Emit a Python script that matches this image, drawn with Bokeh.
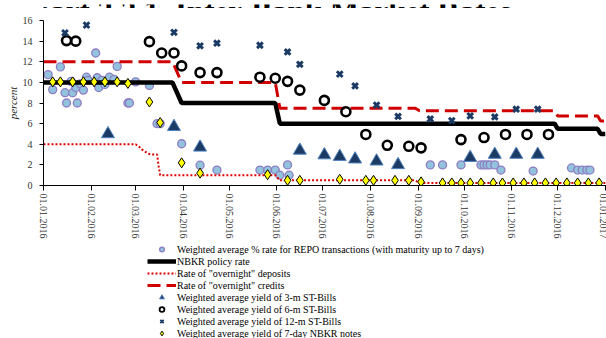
import pandas as pd
from bokeh.plotting import figure
from bokeh.layouts import column
from bokeh.models import (ColumnDataSource, Legend, LegendItem, FixedTicker,
                          DatetimeTickFormatter, Range1d, Label)
from bokeh.core.properties import value
from bokeh.embed import file_html
from bokeh.resources import INLINE

# ---------------- data ----------------
title_text = "Chart 3.2.1. Inter-Bank Market Rates"

repo_dates = ["2016-01-04", "2016-01-07", "2016-01-12", "2016-01-15", "2016-01-16", "2016-01-19",
              "2016-01-20", "2016-01-22", "2016-01-23", "2016-01-25", "2016-01-27", "2016-01-29",
              "2016-01-30", "2016-02-04", "2016-02-05", "2016-02-06", "2016-02-08", "2016-02-10",
              "2016-02-13", "2016-02-16", "2016-02-18", "2016-02-25", "2016-02-26", "2016-03-01",
              "2016-03-10", "2016-03-15", "2016-03-17", "2016-03-31", "2016-04-12", "2016-04-23",
              "2016-05-21", "2016-05-26", "2016-05-31", "2016-06-03", "2016-06-08", "2016-06-09",
              "2016-09-09", "2016-09-17", "2016-09-29", "2016-10-12", "2016-10-14", "2016-10-16",
              "2016-10-18", "2016-10-21", "2016-10-25", "2016-11-15", "2016-12-10", "2016-12-14",
              "2016-12-17", "2016-12-20", "2016-12-22"]
repo_vals = [10.75, 9.3, 11.5, 9.0, 8.0, 10.1,
             9.0, 9.5, 8.0, 9.85, 9.25, 10.5,
             10.2, 12.85, 10.45, 9.5, 10.2, 9.8,
             10.5, 10.3, 11.55, 8.0, 8.0, 10.05,
             9.7, 6.0, 6.0, 4.05, 1.97, 1.5,
             1.5, 1.5, 1.5, 1.0, 2.0, 1.0,
             2.0, 2.0, 2.0, 2.0, 2.0, 2.0,
             2.0, 2.0, 1.5, 1.4, 1.7, 1.5,
             1.5, 1.5, 1.5]

policy_dates = ["2016-01-01", "2016-03-25", "2016-03-31", "2016-05-31", "2016-06-03",
                "2016-11-29", "2016-12-01", "2016-12-27", "2016-12-29", "2017-01-01"]
policy_vals = [10, 10, 8, 8, 6, 6, 5.5, 5.5, 5, 5]

deposit_dates = ["2016-01-01", "2016-03-01", "2016-03-03", "2016-03-05", "2016-03-07", "2016-03-09",
                 "2016-03-11", "2016-03-15", "2016-03-16", "2016-03-17", "2016-05-31", "2016-06-03",
                 "2016-08-30", "2016-09-02", "2017-01-01"]
deposit_vals = [4, 4, 3.8, 3.5, 3.3, 3.1, 3.0, 3.0, 1.9, 1.0, 1.0, 0.5, 0.5, 0.25, 0.25]

credit_dates = ["2016-01-01", "2016-03-25", "2016-03-31", "2016-05-31", "2016-06-03", "2016-08-30",
                "2016-09-02", "2016-11-29", "2016-12-01", "2016-12-27", "2016-12-29", "2017-01-01"]
credit_vals = [12, 12, 10, 10, 7.5, 7.5, 7.25, 7.25, 6.75, 6.75, 6.25, 6.25]

bill3_dates = ["2016-02-12", "2016-03-26", "2016-04-12", "2016-06-16", "2016-07-02", "2016-07-12",
               "2016-07-22", "2016-08-05", "2016-08-19", "2016-10-05", "2016-10-21", "2016-11-04",
               "2016-11-18"]
bill3_vals = [5.0, 5.7, 3.7, 3.4, 2.95, 2.8, 2.55, 2.35, 2.0, 2.7, 3.0, 3.0, 3.0]

bill6_dates = ["2016-01-16", "2016-01-22", "2016-03-10", "2016-03-18", "2016-03-26", "2016-03-31",
               "2016-04-12", "2016-04-23", "2016-05-21", "2016-05-31", "2016-06-08", "2016-06-16",
               "2016-07-02", "2016-07-16", "2016-07-29", "2016-08-12", "2016-08-26", "2016-09-03",
               "2016-09-29", "2016-10-14", "2016-10-28", "2016-11-11", "2016-11-25"]
bill6_vals = [14.05, 14.0, 13.95, 12.85, 12.85, 11.6,
              10.95, 10.95, 10.5, 10.4, 10.1, 9.25,
              8.25, 7.15, 4.95, 3.9, 3.8, 3.65,
              4.45, 4.65, 4.95, 4.95, 4.95]

bill12_dates = ["2016-01-15", "2016-01-29", "2016-03-26", "2016-04-12", "2016-04-23", "2016-05-21",
                "2016-06-08", "2016-06-16", "2016-07-12", "2016-07-22", "2016-08-05", "2016-08-19",
                "2016-09-09", "2016-09-23", "2016-10-05", "2016-10-21", "2016-11-04", "2016-11-18"]
bill12_vals = [14.8, 15.55, 14.85, 13.55, 13.8, 13.6,
               12.95, 11.75, 10.8, 9.65, 7.8, 6.7,
               6.45, 6.3, 6.75, 6.65, 7.4, 7.4]

notes_dates = ["2016-01-07", "2016-01-12", "2016-01-20", "2016-01-27", "2016-02-03", "2016-02-10",
               "2016-02-18", "2016-02-25", "2016-03-10", "2016-03-17", "2016-03-31", "2016-04-12",
               "2016-05-26", "2016-06-08", "2016-06-16", "2016-07-12", "2016-07-29", "2016-08-03",
               "2016-08-17", "2016-08-26", "2016-09-03", "2016-09-17", "2016-09-23", "2016-09-29",
               "2016-10-05", "2016-10-12", "2016-10-20", "2016-10-26", "2016-11-02", "2016-11-09",
               "2016-11-16", "2016-11-23", "2016-11-30", "2016-12-07", "2016-12-14", "2016-12-21",
               "2016-12-28"]
notes_vals = [10.05, 10.05, 10.05, 10.05, 10.05, 10.05,
              10.05, 9.9, 8.1, 6.1, 2.2, 1.2,
              1.05, 0.5, 0.5, 0.6, 0.5, 0.5,
              0.5, 0.5, 0.35, 0.25, 0.25, 0.25,
              0.25, 0.25, 0.25, 0.25, 0.25, 0.25,
              0.25, 0.25, 0.25, 0.25, 0.25, 0.25,
              0.25]

month_ticks = ["2016-01-01", "2016-02-01", "2016-03-01", "2016-04-01", "2016-05-01", "2016-06-01",
               "2016-07-01", "2016-08-01", "2016-09-01", "2016-10-01", "2016-11-01", "2016-12-01",
               "2017-01-01"]
y_ticks = [0, 2, 4, 6, 8, 10, 12, 14, 16]

labels = ["Weighted average % rate for REPO transactions (with maturity up to 7 days)",
          "NBKR policy rate",
          "Rate of \"overnight\" deposits",
          "Rate of \"overnight\" credits",
          "Weighted average yield of 3-m ST-Bills",
          "Weighted average yield of 6-m ST-Bills",
          "Weighted average yield of 12-m ST-Bills",
          "Weighted average yield of 7-day NBKR notes"]

FONT = "Liberation Serif"

# styles per series (kind, keyword args)
styles = [
    ("scatter", dict(marker="circle", size=8, fill_color="#93C2DC", line_color="#8E7CC3", line_width=1.3)),
    ("line", dict(line_color="black", line_width=4.5)),
    ("line", dict(line_color="#E00000", line_width=2, line_dash="2 2")),
    ("line", dict(line_color="#D00000", line_width=3, line_dash="13 6")),
    ("scatter", dict(marker="triangle", size=13, fill_color="#1B3A64", line_color="#4F81BD", line_width=1)),
    ("scatter", dict(marker="circle", size=9, fill_color=None, line_color="black", line_width=2.6)),
    ("scatter", dict(marker="x", size=8, line_color="#1B3A64", line_width=3)),
    ("scatter", dict(marker="diamond", size=10, fill_color="#FFFF00", line_color="black", line_width=1)),
]
# slightly lighter strokes for the small legend swatches
legend_tweaks = {5: dict(line_width=1.8), 6: dict(line_width=1.8)}

series = [(repo_dates, repo_vals), (policy_dates, policy_vals), (deposit_dates, deposit_vals),
          (credit_dates, credit_vals), (bill3_dates, bill3_vals), (bill6_dates, bill6_vals),
          (bill12_dates, bill12_vals), (notes_dates, notes_vals)]
sources = [ColumnDataSource(dict(x=pd.to_datetime(d), y=v)) for d, v in series]

x_start = pd.Timestamp("2016-01-01")
x_end = x_start + pd.Timedelta(days=366.8)

# ---------------- title strip (title is cut by the top edge, as in the source) ----------------
t = figure(width=606, height=8, output_backend="svg", toolbar_location=None,
           x_range=Range1d(0, 1), y_range=Range1d(0, 1),
           min_border_left=0, min_border_right=0, min_border_top=0, min_border_bottom=0)
t.axis.visible = False
t.grid.visible = False
t.outline_line_color = None
t.add_layout(Label(x=-33, y=1, x_units="screen", y_units="screen", text=title_text,
                   text_font=FONT, text_font_style="bold", text_font_size="31px",
                   text_color="black", text_baseline="alphabetic"))

# ---------------- main chart ----------------
p = figure(width=606, height=235, x_axis_type="datetime", output_backend="svg",
           toolbar_location=None, x_range=Range1d(x_start, x_end), y_range=Range1d(0, 16),
           min_border_left=43, min_border_right=0, min_border_top=12, min_border_bottom=58)
p.outline_line_color = None
p.grid.visible = False

for (kind, kw), s in zip(styles, sources):
    getattr(p, kind)("x", "y", source=s, **kw)

xa = p.xaxis[0]
xa.ticker = FixedTicker(ticks=[pd.Timestamp(d).value / 1e6 for d in month_ticks])
fmt = "%d.%m.%Y"
xa.formatter = DatetimeTickFormatter(milliseconds=fmt, seconds=fmt, minsec=fmt, minutes=fmt,
                                     hourmin=fmt, hours=fmt, days=fmt, months=fmt, years=fmt)
xa.major_label_orientation = "vertical"
xa.major_tick_in = 0
xa.major_tick_out = 5
xa.minor_tick_line_color = None
xa.axis_line_color = "black"
xa.major_tick_line_color = "black"
xa.major_label_text_font = FONT
xa.major_label_text_font_size = "10px"
xa.major_label_text_color = "#333333"
xa.major_label_standoff = 3

ya = p.yaxis[0]
ya.ticker = FixedTicker(ticks=y_ticks)
ya.major_tick_in = 0
ya.major_tick_out = 4
ya.minor_tick_line_color = None
ya.axis_line_color = "black"
ya.major_tick_line_color = "black"
ya.major_label_text_font = FONT
ya.major_label_text_font_size = "10px"
ya.major_label_text_color = "#333333"
ya.major_label_standoff = 7
ya.axis_label = "percent"
ya.axis_label_text_font = FONT
ya.axis_label_text_font_style = "italic"
ya.axis_label_text_font_size = "11px"
ya.axis_label_text_color = "#222222"
ya.axis_label_standoff = 1

# ---------------- legend strip (same sources, drawn outside its view) ----------------
q = figure(width=606, height=95, output_backend="svg", toolbar_location=None,
           x_range=Range1d(0, 1), y_range=Range1d(0, 1),
           min_border_left=0, min_border_right=0, min_border_top=0, min_border_bottom=0)
q.axis.visible = False
q.grid.visible = False
q.outline_line_color = None

items = []
for i, ((kind, kw), s, lab) in enumerate(zip(styles, sources, labels)):
    kw2 = dict(kw)
    kw2.update(legend_tweaks.get(i, {}))
    r = getattr(q, kind)("x", "y", source=s, **kw2)
    items.append(LegendItem(label=lab, renderers=[r]))

legend = Legend(items=items, location=(104, -1), glyph_width=29, glyph_height=12,
                label_height=12, label_standoff=1, spacing=0, padding=0, margin=0,
                background_fill_alpha=0, border_line_alpha=0,
                label_text_font=FONT, label_text_font_size="10px", label_text_color="black")
q.add_layout(legend)

open("out.html", "w").write(file_html(column(t, p, q, spacing=0), INLINE))
